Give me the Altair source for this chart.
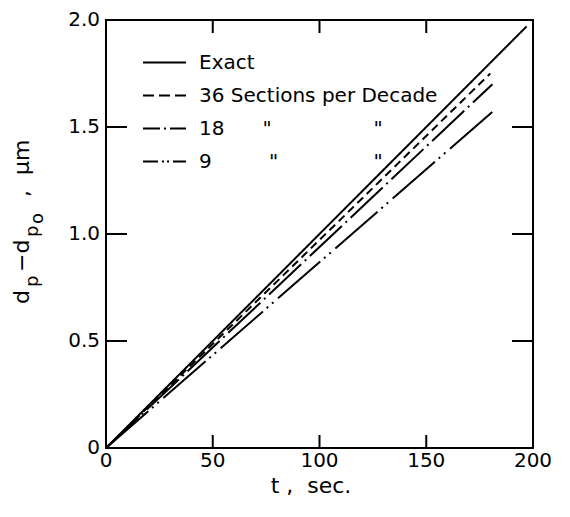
import altair as alt
import pandas as pd

NB = "\u00a0"  # non-collapsing space for the ditto columns

# Series, in legend order
series = [
    "Exact",
    "36 Sections per Decade",
    "18" + NB * 6 + '"' + NB * 16 + '"',
    "9" + NB * 9 + '"' + NB * 15 + '"',
]
# Each curve is a straight line from the origin to its end point
t_start = [0, 0, 0, 0]
d_start = [0.0, 0.0, 0.0, 0.0]
t_end = [197, 180, 181, 182]
d_end = [1.97, 1.75, 1.70, 1.58]

# Dash patterns on the plot and (shorter) in the key
line_dash = [[1, 0], [8, 5], [44, 5, 2, 5], [56, 5, 2, 5, 2, 6]]
key_dash = [[1, 0], [11, 5], [17, 4, 2, 4], [15, 4, 2, 3, 2, 4]]

x_ticks = [0, 50, 100, 150, 200]
x_tick_labels = ["0", "50", "100", "150", "200"]
y_ticks = [0, 0.5, 1.0, 1.5, 2.0]
y_tick_labels = ["0", "0.5", "1.0", "1.5", "2.0"]

x_title = "t ," + NB + NB + "sec."
# y-axis title pieces: d_p - d_{p_o} , μm
title_parts = ["d", "p", "\u2212d", "p", "o", ",", "μm"]

rows = []
for s, t0, d0, t1, d1 in zip(series, t_start, d_start, t_end, d_end):
    rows.append({"series": s, "t": t0, "d": d0})
    rows.append({"series": s, "t": t1, "d": d1})
df = pd.DataFrame(rows)

FONT = "DejaVu Sans"
W, H = 427, 428
T_MAX, D_MAX = 200, 2
x_scale = alt.Scale(domain=[0, T_MAX], nice=False)
y_scale = alt.Scale(domain=[0, D_MAX], nice=False)
x_enc = alt.X("t:Q", scale=x_scale, axis=None)
y_enc = alt.Y("d:Q", scale=y_scale, axis=None)

base = alt.Chart(df)

lines = base.mark_line(color="black", strokeWidth=2).encode(
    x=x_enc,
    y=y_enc,
    strokeDash=alt.StrokeDash(
        "series:N", scale=alt.Scale(domain=series, range=line_dash), legend=None
    ),
)

# Key layer: single-point lines draw nothing, but carry the legend.
key = base.transform_filter(alt.datum.t == 0).mark_line(
    color="black", strokeWidth=2
).encode(
    x=x_enc,
    y=y_enc,
    strokeDash=alt.StrokeDash(
        "series:N",
        scale=alt.Scale(domain=series, range=key_dash),
        legend=alt.Legend(
            title=None, orient="none", legendX=36, legendY=20,
            symbolType="stroke", symbolSize=1849, symbolStrokeWidth=2,
            symbolStrokeColor="black", labelFont=FONT, labelFontSize=20,
            labelColor="black", labelLimit=400, labelOffset=12,
            rowPadding=-4.5, padding=0,
        ),
    ),
)

# Hand-drawn axes: inward ticks on all four sides plus tick labels
xt = alt.Chart(pd.DataFrame({"t": x_ticks, "label": x_tick_labels}))
yt = alt.Chart(pd.DataFrame({"d": y_ticks, "label": y_tick_labels}))

# tick lengths (13 px on x edges, 21 px on y edges) in data units
dx_len = 13 * D_MAX / H
ty_len = 21 * T_MAX / W
seg = dict(color="black", strokeWidth=2, strokeCap="butt")


def x_edge_ticks(lo, hi):
    return (
        xt.transform_calculate(a=str(lo), b=str(hi))
        .transform_fold(["a", "b"], as_=["end", "d"])
        .mark_line(**seg)
        .encode(x=x_enc, y=y_enc, detail="t:Q", order="end:N")
    )


def y_edge_ticks(lo, hi):
    return (
        yt.transform_calculate(a=str(lo), b=str(hi))
        .transform_fold(["a", "b"], as_=["end", "t"])
        .mark_line(**seg)
        .encode(x=x_enc, y=y_enc, detail="d:Q", order="end:N")
    )


tick_layers = [
    x_edge_ticks(0, dx_len),
    x_edge_ticks(D_MAX - dx_len, D_MAX),
    y_edge_ticks(0, ty_len),
    y_edge_ticks(T_MAX - ty_len, T_MAX),
]

text_style = dict(font=FONT, fontSize=20, color="black")
labels_x = xt.mark_text(align="center", baseline="alphabetic", **text_style).encode(
    x=x_enc, y=alt.value(H + 19), text="label:N")
labels_y = yt.mark_text(align="right", baseline="middle", **text_style).encode(
    y=y_enc, x=alt.value(-6), text="label:N")

x_title_layer = alt.Chart(pd.DataFrame({"part": [x_title]})).mark_text(
    align="center", baseline="alphabetic", font=FONT, fontSize=22, color="black"
).encode(text="part:N", x=alt.value(205), y=alt.value(H + 45))

# Rotated y-axis title, set piece by piece so the subscripts sit low.
# (font size, baseline x, start y) in pixels relative to the plot area
title_layout = [
    (22, -77, 284),
    (18, -68, 267),
    (22, -77, 252),
    (18, -68, 217),
    (18, -63, 204),
    (22, -77, 177),
    (22, -77, 155),
]
title_layers = []
for part, (size, px, py) in zip(title_parts, title_layout):
    title_layers.append(
        alt.Chart(pd.DataFrame({"part": [part]}))
        .mark_text(angle=270, align="left", baseline="alphabetic", font=FONT,
                   fontSize=size, color="black")
        .encode(text="part:N", x=alt.value(px), y=alt.value(py))
    )

chart = (
    alt.layer(lines, key, *tick_layers, labels_x, labels_y, x_title_layer,
              *title_layers)
    .resolve_scale(strokeDash="independent")
    .properties(
        width=W,
        height=H,
        autosize=alt.AutoSizeParams(type="none"),
        padding={"left": 106, "top": 20, "right": 37, "bottom": 69},
        background="white",
    )
    .configure_view(stroke="black", strokeWidth=2)
)

chart.save("out.html", embed_options={"renderer": "svg", "actions": False})
